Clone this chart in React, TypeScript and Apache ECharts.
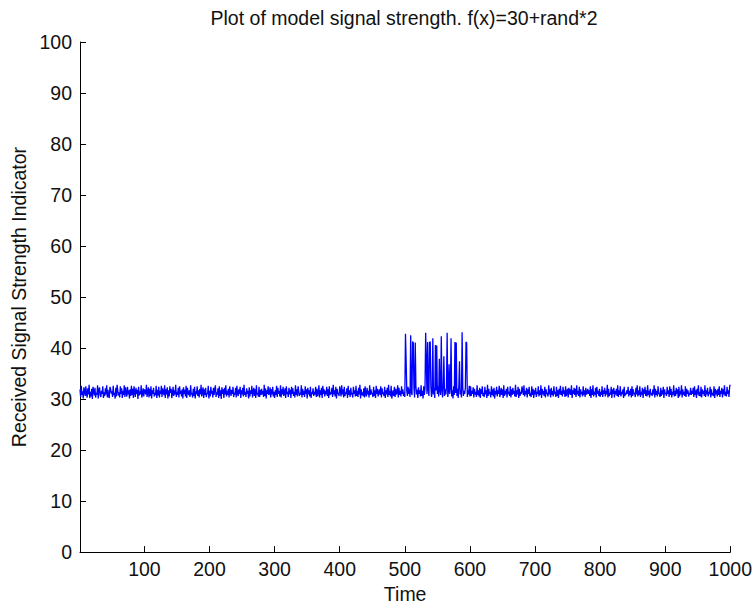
import React, { useEffect, useRef } from "react";
import * as echarts from "echarts";

const titleText = "Plot of model signal strength. f(x)=30+rand*2";
const xName = "Time";
const yName = "Received Signal Strength Indicator";
const xTicks = [100, 200, 300, 400, 500, 600, 700, 800, 900, 1000];
const xMin = 1;
const xMax = 1000;
const yMin = 0;
const yMax = 100;
const yStep = 10;

// samples 1..500 (plain noise)
const segA = [
  31.9,30.4,32.6,30.8,31.5,30.1,32.3,31.7,30.6,32.5,31.0,30.3,32.1,30.9,32.8,30.2,31.4,30.5,32.0,30.0,
  32.4,31.6,30.7,32.2,30.3,31.2,30.9,32.7,30.1,31.8,32.3,30.8,30.4,31.6,31.0,32.5,30.2,31.3,30.6,32.1,
  30.9,32.7,30.3,31.8,30.6,30.2,32.4,32.0,31.1,31.5,30.4,32.6,30.8,31.2,30.1,32.2,30.5,32.8,31.7,30.7,
  31.3,30.3,32.5,31.0,32.1,30.2,31.6,30.8,32.7,30.4,32.3,31.2,30.5,32.4,30.9,31.7,30.1,31.9,30.6,32.6,
  30.8,32.0,30.2,32.5,31.4,30.4,32.2,31.0,31.8,30.0,32.4,30.7,31.5,30.9,32.7,30.3,31.1,32.1,30.5,31.9,
  31.5,30.9,32.8,30.4,31.3,32.3,30.3,32.0,30.6,32.5,30.1,31.7,31.0,32.2,30.5,31.2,30.8,32.6,30.2,31.8,
  30.7,32.4,30.3,31.6,31.0,32.6,30.4,32.1,31.3,30.8,32.7,30.2,31.9,30.9,32.3,30.1,31.7,30.5,32.5,31.2,
  32.0,30.2,31.1,32.4,30.6,31.7,30.9,32.8,30.4,31.4,30.8,32.2,30.3,32.5,31.0,31.6,30.5,31.9,30.1,32.3,
  31.0,31.8,30.5,32.6,30.2,32.2,31.3,30.8,31.7,30.4,32.7,30.9,31.2,30.3,32.0,30.6,32.4,30.1,31.5,31.0,
  32.5,30.6,31.7,30.3,32.0,30.9,32.8,30.5,31.4,32.3,30.2,31.9,30.8,32.2,30.4,31.1,31.0,32.6,30.1,31.6,
  30.5,32.4,31.0,31.6,30.3,32.2,30.8,31.9,32.7,30.4,31.3,30.9,32.1,30.2,32.5,30.6,31.7,30.0,32.3,31.0,
  31.9,30.2,32.2,30.9,32.7,30.5,31.6,30.8,32.0,30.3,32.5,31.4,30.6,31.8,31.0,32.4,30.4,31.2,30.9,32.2,
  30.3,32.6,31.1,30.6,31.9,31.0,32.4,30.2,31.7,30.9,32.2,30.5,32.8,30.8,31.4,30.4,32.1,31.0,31.6,30.1,
  32.3,30.5,31.7,31.0,32.6,30.3,31.3,32.2,30.6,31.9,30.2,32.7,30.9,31.2,30.5,32.4,30.4,31.8,30.8,32.0,
  30.9,31.6,30.4,32.8,30.6,32.1,30.1,31.7,31.0,32.5,30.8,31.2,32.3,30.3,31.9,30.9,32.4,30.5,31.4,30.2,
  31.7,30.8,32.6,30.4,32.2,31.0,31.6,30.5,32.7,30.3,31.9,30.9,32.4,30.6,31.2,32.1,30.2,32.5,31.0,31.4,
  30.4,32.2,30.9,31.8,30.2,32.4,31.0,32.1,30.6,31.4,30.3,32.7,30.8,31.9,30.5,32.5,31.6,30.6,31.2,30.9,
  32.7,30.3,32.0,30.8,31.6,30.4,32.5,31.0,31.9,30.1,32.2,30.9,31.7,30.5,32.4,30.2,31.3,31.0,32.1,30.6,
  31.4,30.9,32.4,30.4,32.0,30.6,31.2,32.7,30.3,31.7,30.8,32.2,30.2,32.6,31.0,31.9,30.5,31.6,30.9,32.4,
  30.6,31.9,30.2,32.5,30.8,31.3,31.0,32.2,30.4,32.8,30.9,31.7,30.5,32.4,30.1,32.0,31.0,31.2,30.6,32.5,
  31.6,30.5,32.7,30.9,31.9,30.3,32.4,30.6,31.3,31.0,32.1,30.2,32.6,30.8,31.7,30.4,32.2,30.9,31.2,30.3,
  32.4,31.0,31.7,30.5,32.6,30.6,31.6,30.4,32.2,30.9,32.8,30.1,31.9,30.8,31.3,30.6,32.1,30.3,32.5,31.0,
  30.5,32.2,30.9,31.6,30.3,32.7,30.8,31.9,31.0,31.2,30.4,32.4,30.6,31.7,30.2,32.6,31.0,32.0,30.5,31.4,
  31.9,30.8,32.5,30.3,32.1,31.0,31.3,30.6,32.4,30.2,31.7,30.9,32.2,30.4,32.8,30.8,31.6,30.5,32.6,30.1,
  31.0,31.7,30.6,32.4,30.4,32.0,30.9,31.2,32.7,30.3,32.2,30.8,31.6,30.5,32.5,31.0,31.9,30.6,31.3,30.4,
];

// samples 501..600 (noise with bursts)
const segB = [
  42.8,37.6,31.6,30.6,32.4,31.0,32.0,30.4,42.5,31.3,30.8,41.3,41.0,32.2,30.3,41.1,32.6,30.9,31.8,30.2,
  32.3,31.0,31.7,30.5,32.7,30.6,31.6,30.1,32.5,30.8,32.0,43.0,37.2,31.0,41.2,31.9,30.6,41.0,41.3,32.4,
  30.4,31.4,41.9,30.9,32.2,30.2,40.6,31.7,40.5,31.0,32.5,30.5,37.9,31.6,30.8,42.3,32.0,30.3,32.6,38.4,
  30.6,31.9,30.9,32.4,43.0,30.4,31.6,36.8,31.0,32.2,41.9,30.5,31.7,30.1,32.5,30.8,41.2,31.2,41.1,30.6,
  32.0,30.2,32.7,37.4,30.9,31.8,30.3,43.1,32.3,30.6,31.6,31.0,32.2,41.2,41.0,30.4,31.7,30.9,32.6,30.5,
];

// samples 601..1000 (plain noise)
const segC = [
  32.5,30.6,31.6,31.0,32.3,30.3,32.0,30.9,31.4,30.4,32.7,30.8,31.7,30.5,32.2,30.2,31.9,31.0,32.5,30.6,
  31.2,30.4,32.4,30.9,31.7,30.2,32.8,30.6,32.0,31.0,31.4,30.3,32.5,30.8,31.9,30.5,32.2,30.1,31.6,30.9,
  32.4,30.5,31.7,31.0,32.6,30.4,31.2,32.2,30.8,31.9,30.2,32.7,30.6,31.6,30.9,32.0,30.3,32.4,31.0,31.4,
  30.6,32.5,30.3,31.9,30.8,32.2,31.0,31.6,30.5,32.8,30.4,31.7,30.9,32.4,30.2,32.0,30.6,31.4,31.0,32.5,
  31.7,30.8,32.7,30.5,31.6,30.9,32.2,30.3,31.9,31.0,32.4,30.6,31.2,30.4,32.5,30.8,32.0,30.2,31.7,30.9,
  32.2,30.4,31.4,31.0,32.5,30.5,31.7,30.8,32.7,30.2,32.0,30.9,31.6,30.6,32.4,30.3,31.9,31.0,31.2,30.5,
  32.7,30.9,31.9,30.3,32.2,30.8,31.6,30.5,32.5,31.0,31.4,30.4,32.4,30.6,31.7,30.2,32.0,30.9,32.6,30.8,
  31.6,30.5,32.4,31.0,31.7,30.4,32.5,30.6,31.2,32.0,30.3,32.2,30.9,31.9,30.8,32.7,30.2,31.7,31.0,32.2,
  30.8,32.0,30.4,32.7,30.9,31.6,30.6,32.4,30.3,31.9,31.0,31.4,30.5,32.5,30.8,31.7,30.4,32.2,30.9,31.2,
  32.0,31.0,31.7,30.6,32.5,30.2,31.9,30.8,32.7,30.5,31.4,30.9,32.2,30.3,32.4,31.0,31.6,30.6,32.0,30.4,
  31.4,30.8,32.5,30.4,31.7,31.0,32.2,30.5,31.6,30.9,32.8,30.3,32.0,30.6,31.2,30.9,32.4,30.2,31.9,31.0,
  32.2,30.3,31.6,30.9,32.0,30.6,32.7,30.4,31.7,30.8,32.5,30.5,31.4,31.0,31.9,30.2,32.4,30.6,31.2,30.9,
  31.7,31.0,32.4,30.5,31.6,30.8,32.0,30.3,32.5,30.6,31.9,31.0,31.2,30.4,32.2,30.9,32.7,30.5,31.7,30.8,
  32.5,30.4,31.4,30.9,32.2,30.2,31.9,31.0,32.4,30.6,31.7,30.5,32.7,30.8,31.6,30.3,32.0,30.9,31.2,30.6,
  31.9,30.9,32.7,30.3,32.0,30.8,31.6,30.5,32.5,31.0,31.2,30.4,32.2,30.6,31.7,30.9,32.4,30.2,31.9,31.0,
  31.2,30.6,32.4,31.0,31.7,30.4,32.5,30.8,32.0,30.3,31.4,30.9,32.7,30.5,31.6,30.6,32.2,31.0,31.9,30.2,
  32.4,30.5,31.6,30.9,32.7,30.3,31.9,30.8,31.4,30.6,32.5,30.4,32.0,31.0,31.7,30.5,31.2,30.9,32.2,30.8,
  31.6,31.0,32.2,30.4,32.5,30.8,31.7,30.2,32.0,30.9,32.7,30.6,31.4,30.5,32.4,30.3,31.9,31.0,31.6,30.6,
  32.7,30.4,31.7,30.9,32.2,30.5,31.4,31.0,32.4,30.3,31.9,30.8,31.2,30.6,32.5,30.2,32.0,30.9,31.7,30.5,
  32.0,30.8,32.5,30.4,31.6,31.0,32.2,30.3,31.9,30.9,32.7,30.6,31.4,30.5,32.4,31.0,31.7,30.4,32.5,32.8,
];

const signal = [...segA, ...segB, ...segC];

const FONT = "'Liberation Sans', Arial, Helvetica, sans-serif";
const FS = 19.5;
const TXT = "#111";

export default function App() {
  const ref = useRef<HTMLDivElement>(null);
  useEffect(() => {
    document.body.style.margin = "0";
    document.body.style.overflow = "hidden";
    const chart = echarts.init(ref.current!, null, { renderer: "svg" });
    const data = signal.map((v, i) => [i + 1, v]);
    chart.setOption({
      animation: false,
      backgroundColor: "#ffffff",
      textStyle: { fontFamily: FONT },
      graphic: [
        {
          type: "text",
          x: 404,
          y: 17.5,
          silent: true,
          style: {
            text: titleText,
            fontFamily: FONT,
            fontSize: FS,
            fill: TXT,
            textAlign: "center",
            textVerticalAlign: "middle",
          },
        },
      ],
      grid: { left: 80, right: 22, top: 42, bottom: 55, containLabel: false },
      xAxis: {
        type: "value",
        min: xMin,
        max: xMax,
        name: xName,
        nameLocation: "middle",
        nameGap: 31,
        nameTextStyle: { fontFamily: FONT, fontSize: FS, color: TXT },
        axisLine: { show: true, lineStyle: { color: "#000", width: 1 } },
        axisTick: { show: true, inside: true, length: 6, customValues: xTicks, lineStyle: { color: "#000" } },
        axisLabel: {
          customValues: xTicks,
          margin: 7,
          fontFamily: FONT,
          fontSize: FS,
          color: TXT,
          formatter: (v: number) => String(v),
        },
        splitLine: { show: false },
      },
      yAxis: {
        type: "value",
        min: yMin,
        max: yMax,
        interval: yStep,
        name: yName,
        nameLocation: "middle",
        nameGap: 50,
        nameTextStyle: { fontFamily: FONT, fontSize: FS, color: TXT },
        axisLine: { show: true, lineStyle: { color: "#000", width: 1 } },
        axisTick: { show: true, inside: true, length: 6, lineStyle: { color: "#000" } },
        axisLabel: { margin: 8, fontFamily: FONT, fontSize: FS, color: TXT },
        splitLine: { show: false },
      },
      series: [
        {
          type: "line",
          data,
          showSymbol: false,
          symbol: "none",
          silent: true,
          lineStyle: { color: "#0000ff", width: 1.3 },
          itemStyle: { color: "#0000ff" },
        },
      ],
    });
    return () => chart.dispose();
  }, []);
  return (
    <div
      ref={ref}
      style={{ position: "absolute", left: 0, top: 0, width: 755, height: 609 }}
    />
  );
}
